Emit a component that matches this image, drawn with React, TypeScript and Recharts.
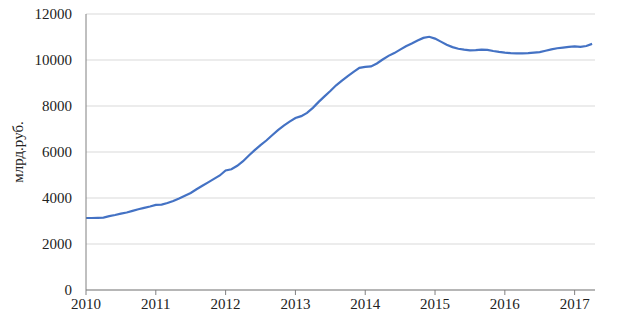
import React from 'react';
import { LineChart, Line, XAxis, YAxis, CartesianGrid } from 'recharts';

// monthly values, Jan 2010 .. Apr 2017
const VALUES = [
  3130, 3130, 3140, 3150, 3210, 3260, 3320, 3370, 3440, 3510, 3570, 3630,
  3700, 3710, 3780, 3870, 3980, 4100, 4220, 4380, 4530, 4680, 4830, 4980,
  5200, 5250, 5400, 5600, 5850, 6080, 6300, 6500, 6730, 6950, 7150, 7320,
  7480, 7560, 7700, 7920, 8180, 8420, 8650, 8900, 9100, 9300, 9480, 9660,
  9700, 9720, 9850, 10020, 10180, 10300, 10450, 10600, 10720, 10850, 10960, 11010,
  10930, 10800, 10660, 10560, 10490, 10450, 10420, 10430, 10450, 10440, 10390, 10350,
  10320, 10300, 10290, 10290, 10300, 10320, 10340, 10400, 10460, 10510, 10540, 10570,
  10590, 10570, 10610, 10700,
];
const YEARS = ['2010', '2011', '2012', '2013', '2014', '2015', '2016', '2017'];
const Y_TICKS = [0, 2000, 4000, 6000, 8000, 10000, 12000];

const data = VALUES.map((v, i) => ({ m: i, value: v }));
const xTicks = YEARS.map((_, i) => i * 12);

const font = { fontFamily: '"Liberation Serif", "Times New Roman", serif', fill: '#222' };

export default function App() {
  return (
    <div style={{ position: 'absolute', left: 0, top: 0, background: '#fff' }}>
      <LineChart width={619} height={324} data={data} margin={{ top: 14, right: 24, bottom: 4, left: 0 }}>
        <CartesianGrid vertical={false} stroke="#d9d9d9" />
        <XAxis
          dataKey="m"
          type="number"
          domain={[0, 87.5]}
          ticks={xTicks}
          tickFormatter={(v: number) => YEARS[v / 12]}
          stroke="#808080"
          height={30}
          tickSize={5}
          tickMargin={3}
          tick={{ ...font, fontSize: 15 }}
          interval={0}
        />
        <YAxis
          width={86}
          domain={[0, 12000]}
          ticks={Y_TICKS}
          stroke="#808080"
          tickLine={false}
          tickSize={6}
          tickMargin={8}
          tick={{ ...font, fontSize: 15 }}
          label={{ value: 'млрд.руб.', angle: -90, position: 'insideLeft', offset: 18, style: { ...font, fontSize: 15, textAnchor: 'middle' } }}
        />
        <Line type="linear" dataKey="value" stroke="#4472C4" strokeWidth={2.2} dot={false} isAnimationActive={false} />
      </LineChart>
    </div>
  );
}
